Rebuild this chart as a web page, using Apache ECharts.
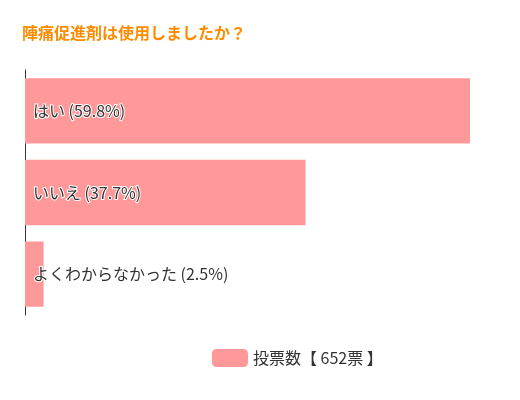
<!DOCTYPE html><html><head><meta charset="utf-8"><script src="https://cdn.jsdelivr.net/npm/echarts@6/dist/echarts.min.js"></script></head><body style="margin:0"><div id="c" style="width:520px;height:400px"></div><script>
const categories=['はい','いいえ','よくわからなかった'];
const values=[59.8,37.7,2.5];
const seriesName='投票数【 652票 】';
const ch=echarts.init(document.getElementById('c'));
ch.setOption({
title:{text:'陣痛促進剤は使用しましたか？',left:17,top:20,textStyle:{color:'#ff8c00',fontSize:16,fontWeight:'bold',fontFamily:'Noto Sans CJK JP'}},
legend:{bottom:28,left:207,itemWidth:36,itemHeight:18,textStyle:{fontSize:16,color:'#333',fontFamily:'Noto Sans CJK JP'}},
grid:{left:25,right:50,top:70,bottom:85},
xAxis:{type:'value',max:'dataMax',min:0,show:false},
yAxis:{type:'category',inverse:true,data:categories,axisLabel:{show:false},axisTick:{show:false},axisLine:{lineStyle:{color:'#333'}}},
series:[{name:seriesName,type:'bar',data:values,barCategoryGap:'20%',itemStyle:{color:'#ff9999'},
label:{show:true,position:'insideLeft',offset:[0,0],distance:8,fontSize:16,color:'#333',textBorderColor:'#fff',textBorderWidth:2,fontFamily:'Noto Sans CJK JP',
formatter:p=>p.name+' ('+p.value.toFixed(1)+'%)'}}]
});
</script></body></html>
